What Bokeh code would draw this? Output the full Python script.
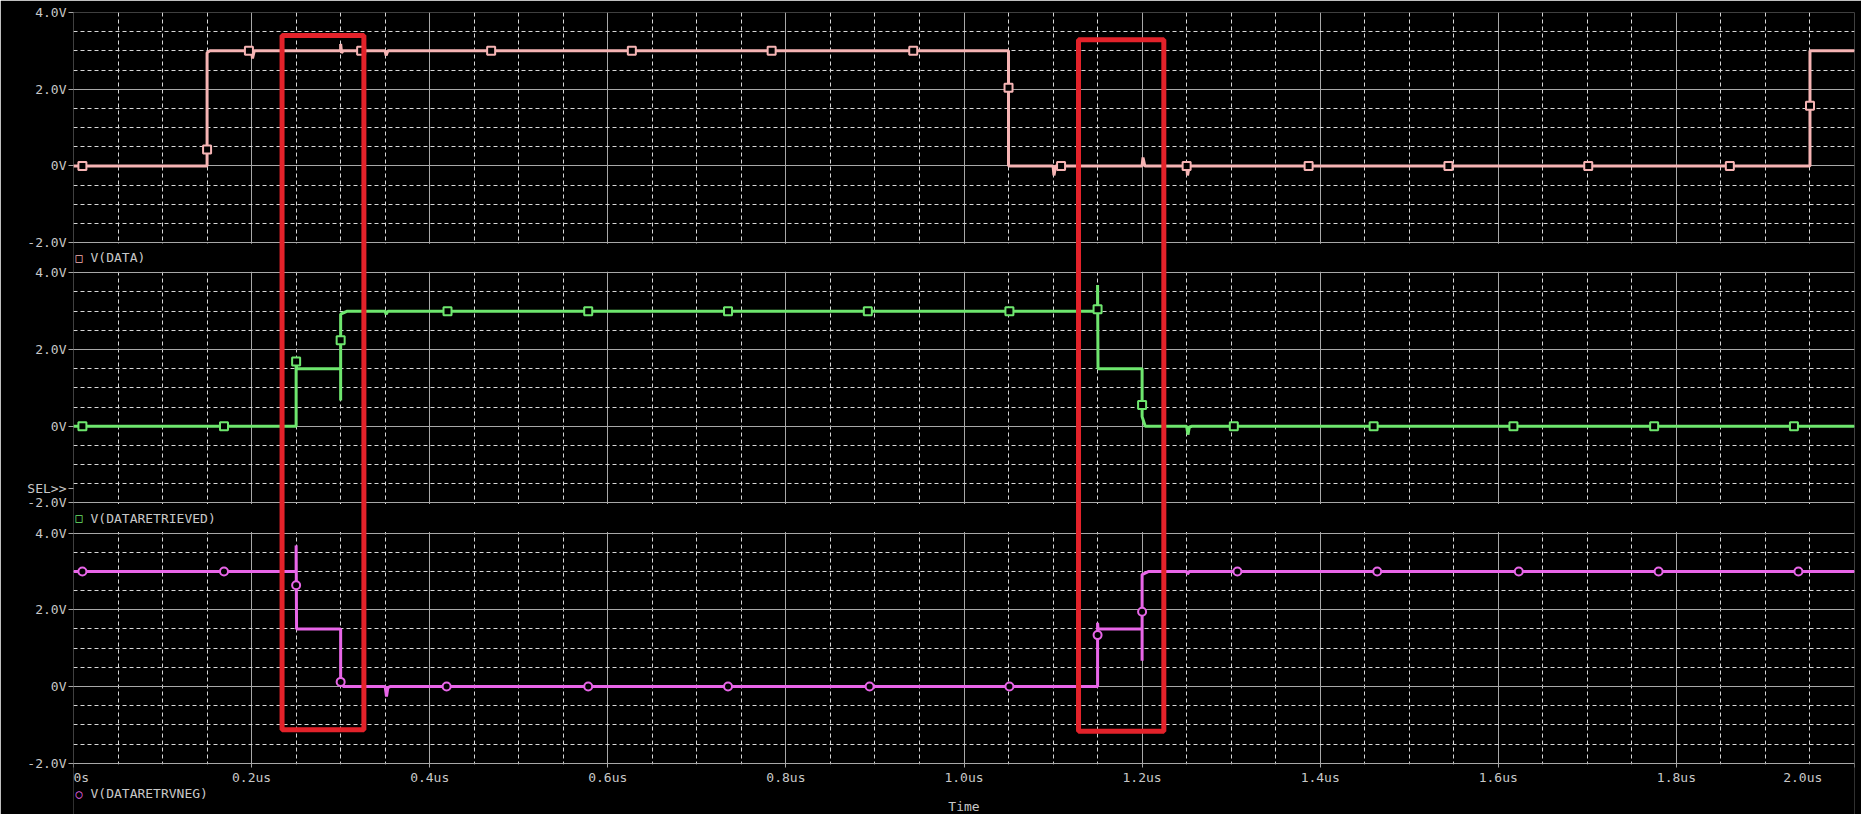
from bokeh.plotting import figure
from bokeh.models import Range1d, FixedTicker, BoxAnnotation, Label
from bokeh.embed import file_html
from bokeh.resources import INLINE

# ---------------- data (time in us, values in V) ----------------
t_data = [0.0, 0.15, 0.15, 0.153, 0.2, 0.201, 0.203, 0.3, 0.3, 0.301, 0.303,
          0.35, 0.351, 0.353, 1.05, 1.05, 1.1, 1.101, 1.103, 1.2, 1.201, 1.203,
          1.25, 1.251, 1.253, 1.95, 1.95, 2.0]
v_data = [0.0, 0.0, 2.95, 3.0, 3.0, 2.8, 3.0, 3.0, 3.18, 2.95, 3.0,
          3.0, 2.88, 3.0, 3.0, 0.0, 0.0, -0.25, 0.0, 0.0, 0.22, 0.0,
          0.0, -0.25, 0.0, 0.0, 3.0, 3.0]
mk_t_data = [0.010, 0.15, 0.197, 0.323, 0.469, 0.627, 0.784, 0.943, 1.05,
             1.109, 1.25, 1.387, 1.544, 1.701, 1.860, 1.95]
mk_v_data = [0.0, 0.43, 3.0, 3.0, 3.0, 3.0, 3.0, 3.0, 2.04,
             0.0, 0.0, 0.0, 0.0, 0.0, 0.0, 1.57]

t_ret = [0.0, 0.25, 0.25, 0.2505, 0.3, 0.3, 0.3, 0.3075, 0.35, 0.351, 0.353,
         1.15, 1.15, 1.1505, 1.2, 1.2, 1.2035, 1.25, 1.2515, 1.253, 1.256, 2.0]
v_ret = [0.0, 0.0, 1.72, 1.5, 1.5, 0.67, 2.92, 3.0, 3.0, 2.92, 3.0,
         3.0, 3.68, 1.5, 1.5, 0.25, 0.0, 0.0, -0.22, -0.02, 0.0, 0.0]
mk_t_ret = [0.010, 0.169, 0.25, 0.3, 0.420, 0.578, 0.735, 0.892, 1.051,
            1.15, 1.2, 1.303, 1.460, 1.617, 1.775, 1.932]
mk_v_ret = [0.0, 0.0, 1.69, 2.24, 3.0, 3.0, 3.0, 3.0, 3.0,
            3.05, 0.55, 0.0, 0.0, 0.0, 0.0, 0.0]

t_neg = [0.0, 0.25, 0.25, 0.2505, 0.3, 0.3, 0.303, 0.35, 0.3515, 0.353, 0.356,
         1.15, 1.15, 1.1505, 1.2, 1.2, 1.2, 1.2075, 1.25, 1.251, 1.253, 2.0]
v_neg = [3.0, 3.0, 3.68, 1.5, 1.5, 0.1, 0.0, 0.0, -0.26, -0.03, 0.0,
         0.0, 1.66, 1.5, 1.5, 0.67, 2.92, 3.0, 3.0, 2.93, 3.0, 3.0]
mk_t_neg = [0.010, 0.169, 0.25, 0.3, 0.419, 0.578, 0.735, 0.894, 1.051,
            1.15, 1.2, 1.307, 1.464, 1.623, 1.780, 1.937]
mk_v_neg = [3.0, 3.0, 2.64, 0.12, 0.0, 0.0, 0.0, 0.0, 0.0,
            1.34, 1.95, 3.0, 3.0, 3.0, 3.0, 3.0]

trace_names = ["V(DATA)", "V(DATARETRIEVED)", "V(DATARETRVNEG)"]
trace_symbols = ["\u25a1", "\u25a1", "\u25cb"]
y_tick_values = [-2.0, 0.0, 2.0, 4.0]
y_tick_labels = ["-2.0V", "0V", "2.0V", "4.0V"]
y_minor_values = [-1.5, -1.0, -0.5, 0.5, 1.0, 1.5, 2.5, 3.0, 3.5]
x_tick_values = [0.0, 0.2, 0.4, 0.6, 0.8, 1.0, 1.2, 1.4, 1.6, 1.8, 2.0]
x_tick_labels = ["0s", "0.2us", "0.4us", "0.6us", "0.8us", "1.0us",
                 "1.2us", "1.4us", "1.6us", "1.8us", "2.0us"]
x_minor_values = [round(0.05 * k, 3) for k in range(41) if k % 4 != 0]
x_axis_title = "Time"
sel_text = "SEL>>"
sel_level = -1.62          # panel-2 volts where the SEL>> marker sits

# highlight boxes: time span (us), top in top-panel volts, bottom in bottom-panel volts
box_t_start = [0.2342, 1.1286]
box_t_end = [0.3261, 1.2244]
box_top_v = [3.40, 3.29]
box_bottom_v = [-1.13, -1.17]

# ---------------- layout constants ----------------
GAP_V = 0.788                 # gap between stacked panels (in volts of scale)
BOTTOM_V = 1.338              # room under the last panel for axis texts
PITCH = 6.0 + GAP_V
offsets = [2 * PITCH, PITCH, 0.0]          # panel 1 (top), 2, 3 (bottom)
Y_START = -2.0 - BOTTOM_V
Y_END = 4.0 + 2 * PITCH

BG = "black"
TXT = "#c8c8c8"
GRID_MAJ = "#a8a8a8"
GRID_MIN = "#d8d8d8"
FONT = "DejaVu Sans Mono"
FS = "13px"
colors = ["#f6b4b4", "#6ee66e", "#e866e8"]
NBSP = "\u00a0"

p = figure(width=1861, height=814, output_backend="svg", toolbar_location=None,
           x_range=Range1d(0, 2.0), y_range=Range1d(Y_START, Y_END),
           min_border_left=73, min_border_right=7, min_border_top=12,
           min_border_bottom=0, background_fill_color=BG,
           border_fill_color=BG, outline_line_color=None)

for i, off in enumerate(offsets):
    p.extra_y_ranges[f"p{i+1}"] = Range1d(Y_START - off, Y_END - off)

# y axis: one axis with labels for each stacked panel (+ the SEL>> marker)
y_ticks = []
y_over = {}
y_minor = []
for off in offsets:
    for v, lab in zip(y_tick_values, y_tick_labels):
        y_ticks.append(v + off)
        y_over[v + off] = lab
    for v in y_minor_values:
        y_minor.append(v + off)
sel_pos = sel_level + offsets[1]
p.yaxis.ticker = FixedTicker(ticks=y_ticks + [sel_pos])
y_over[sel_pos] = sel_text
p.yaxis.major_label_overrides = y_over
p.yaxis.axis_line_color = None
p.yaxis.major_tick_line_color = GRID_MAJ
p.yaxis.major_tick_out = 5
p.yaxis.major_tick_in = 0
p.yaxis.minor_tick_line_color = None
p.yaxis.major_label_standoff = 2
p.yaxis.major_label_text_font = FONT
p.yaxis.major_label_text_font_size = FS
p.yaxis.major_label_text_color = TXT

# time axis pinned to the bottom edge of the last panel
x_over = {v: l for v, l in zip(x_tick_values, x_tick_labels)}
x_over[x_tick_values[0]] = NBSP * 2 + x_tick_labels[0]      # keep first label inside
x_over[x_tick_values[-1]] = x_tick_labels[-1] + NBSP * 5    # keep last label inside
p.xaxis.fixed_location = y_tick_values[0] + offsets[2]
p.xaxis.ticker = FixedTicker(ticks=x_tick_values)
p.xaxis.major_label_overrides = x_over
p.xaxis.axis_line_color = None
p.xaxis.major_tick_line_color = GRID_MAJ
p.xaxis.major_tick_out = 4
p.xaxis.major_tick_in = 0
p.xaxis.minor_tick_line_color = None
p.xaxis.major_label_standoff = 3
p.xaxis.major_label_text_font = FONT
p.xaxis.major_label_text_font_size = FS
p.xaxis.major_label_text_color = TXT

p.xgrid.ticker = FixedTicker(ticks=x_tick_values, minor_ticks=x_minor_values)
p.xgrid.grid_line_color = GRID_MAJ
p.xgrid.minor_grid_line_color = GRID_MIN
p.xgrid.minor_grid_line_dash = "4 3"
p.ygrid.ticker = FixedTicker(ticks=y_ticks, minor_ticks=y_minor)
p.ygrid.grid_line_color = GRID_MAJ
p.ygrid.minor_grid_line_color = GRID_MIN
p.ygrid.minor_grid_line_dash = "4 3"

# mask the vertical grid lines in the gaps between panels and under the last one
eps = 0.03
for k in range(2):
    lower_top = 4.0 + offsets[k + 1]
    upper_bottom = -2.0 + offsets[k]
    p.add_layout(BoxAnnotation(bottom=lower_top + eps, top=upper_bottom - eps,
                               fill_color=BG, fill_alpha=1.0, line_color=None,
                               level="underlay"))
p.add_layout(BoxAnnotation(top=-2.0 + offsets[2] - eps, fill_color=BG,
                           fill_alpha=1.0, line_color=None, level="underlay"))

# traces
series = [(t_data, v_data, mk_t_data, mk_v_data, "square"),
          (t_ret, v_ret, mk_t_ret, mk_v_ret, "square"),
          (t_neg, v_neg, mk_t_neg, mk_v_neg, "circle")]
for i, (tt, vv, mt, mv, mk) in enumerate(series):
    rn = f"p{i+1}"
    p.line(tt, vv, line_color=colors[i], line_width=3, y_range_name=rn)
    p.scatter(mt, mv, marker=mk, size=8, line_color=colors[i], line_width=2,
              fill_color=BG, y_range_name=rn)

# red highlight boxes spanning the panels
p.quad(left=box_t_start, right=box_t_end,
       top=[v + offsets[0] for v in box_top_v],
       bottom=[v + offsets[2] for v in box_bottom_v],
       fill_color=None, line_color="#e3222a", line_width=5)

# trace legends (under each panel)
legend_pos = [("p2", 4.39), ("p3", 4.39), ("p3", -2.80)]
for i, (rn, yv) in enumerate(legend_pos):
    p.add_layout(Label(x=0, y=yv, y_range_name=rn, x_offset=2, text=trace_symbols[i],
                       text_font=FONT, text_font_size="12px", text_color=colors[i],
                       text_baseline="middle"))
    p.add_layout(Label(x=0, y=yv, y_range_name=rn, x_offset=17, text=trace_names[i],
                       text_font=FONT, text_font_size=FS, text_color=TXT,
                       text_baseline="middle"))

p.add_layout(Label(x=1.0, y=-3.12, y_range_name="p3", text=x_axis_title,
                   text_font=FONT, text_font_size=FS, text_color=TXT,
                   text_align="center", text_baseline="middle"))

open("out.html", "w").write(file_html(p, INLINE))
